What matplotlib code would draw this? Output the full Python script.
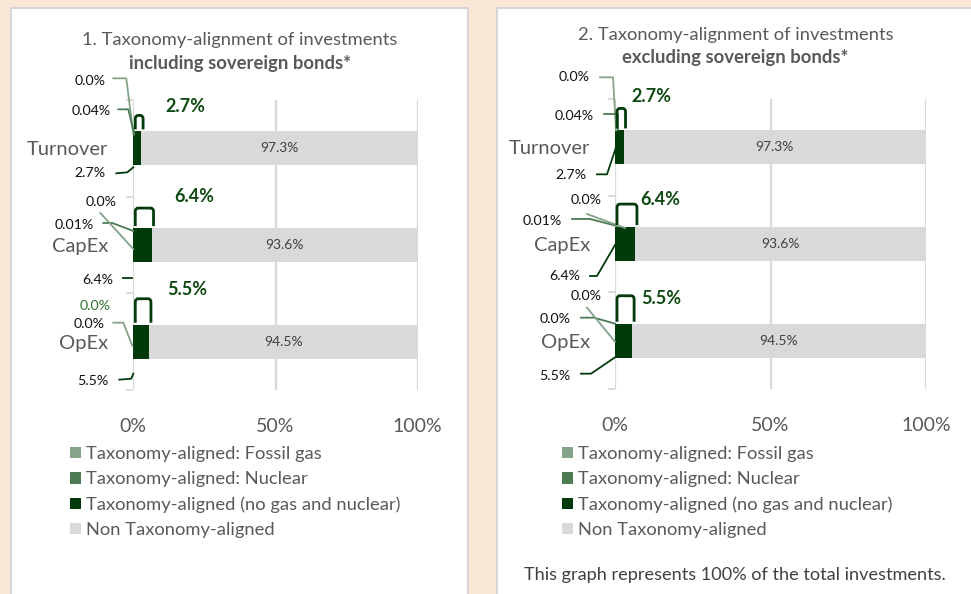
import matplotlib
matplotlib.use('Agg')
import matplotlib.pyplot as plt
from matplotlib.lines import Line2D
from matplotlib.patches import Rectangle, Patch, PathPatch
from matplotlib.path import Path
from matplotlib.transforms import IdentityTransform

W, H = 971, 594
plt.rcParams['font.family'] = ['Lato', 'DejaVu Sans']

# ---------------- data ----------------
categories = ['Turnover', 'CapEx', 'OpEx']
series_names = ['Taxonomy-aligned: Fossil gas', 'Taxonomy-aligned: Nuclear',
                'Taxonomy-aligned (no gas and nuclear)', 'Non Taxonomy-aligned']

incl_gas = [0.0, 0.0, 0.0]
incl_nuclear = [0.04, 0.01, 0.0]
incl_aligned = [2.7, 6.4, 5.5]
incl_non = [97.3, 93.6, 94.5]

excl_gas = [0.0, 0.0, 0.0]
excl_nuclear = [0.04, 0.01, 0.0]
excl_aligned = [2.7, 6.4, 5.5]
excl_non = [97.3, 93.6, 94.5]

xticks = [0, 50, 100]
xticklabels = ['0%', '50%', '100%']

title1_a = '1. Taxonomy-alignment of investments'
title1_b = 'including sovereign bonds*'
title2_a = '2. Taxonomy-alignment of investments'
title2_b = 'excluding sovereign bonds*'
footer = 'This graph represents 100% of the total investments.'

# ---------------- style ----------------
C_GAS = '#84A388'
C_NUC = '#4C7A53'
C_ALI = '#023A0C'
C_NON = '#D9D9D9'
C_TXT = '#595959'
C_BG = '#FAE8D6'
COLORS = [C_GAS, C_NUC, C_ALI, C_NON]
LCOL = {'gas': C_GAS, 'nuc': C_NUC, 'ali': C_ALI}

fig = plt.figure(figsize=(W / 100, H / 100), dpi=100, facecolor=C_BG)


def frac_rect(x0, y0, x1, y1):
    return [x0 / W, 1 - y1 / H, (x1 - x0) / W, (y1 - y0) / H]


# white panels
for (x0, x1) in [(11, 468), (497, 985)]:
    r = Rectangle((x0 / W, -0.05), (x1 - x0) / W, 1.05 - 8 / H,
                  transform=fig.transFigure, facecolor='white',
                  edgecolor='#D6D6D6', linewidth=1.5, zorder=0)
    fig.add_artist(r)


def fmt_small(v):
    return '0.0%' if v == 0 else f'{v:.2f}%'


panels = [
    dict(rect=(133.3, 100, 417.7, 390), gas=incl_gas, nuc=incl_nuclear, ali=incl_aligned, non=incl_non,
         title=(title1_a, title1_b), tpos=(240, 40, 63), legend=(70, 446),
         texts=[[('gas', (-28, -67)), ('nuc', (-23, -37)), ('ali', (-28, 25))],
                [('gas', (-17, -43)), ('nuc', (-39, -20)), ('ali', (-20, 35))],
                [('gas', (-23, -36)), ('nuc', (-29, -18)), ('ali', (-25, 39))]],
         gas_colored=[False, False, True],
         leaders=[[('gas', [(-20, -70), (-7, -70), (0, -14)]),
                   ('nuc', [(-15, -39), (-5, -39), (1, -14)]),
                   ('ali', [(-17, 25), (-6, 24), (0, 19)])],
                  [('nuc', [(-30, -22), (-21, -22), (0, -14)]),
                   ('gas', [(-33, -32), (0, 4)]),
                   ('ali', [(-10, 33), (-1, 33)])],
                  [('gas', [(-20, -19), (-10, -19), (-1, 4)]),
                   ('ali', [(-14, 38), (-2, 37), (0, 32)])]],
         bracket_h=[16, 20, 26],
         total_off=[(24, -25), (23, -32), (18, -35)]),
    dict(rect=(615, 99, 926, 389), gas=excl_gas, nuc=excl_nuclear, ali=excl_aligned, non=excl_non,
         title=(title2_a, title2_b), tpos=(735.5, 35, 58), legend=(562, 446),
         texts=[[('gas', (-25, -70)), ('nuc', (-21, -31)), ('ali', (-28, 28))],
                [('gas', (-13, -44)), ('nuc', (-53, -23)), ('ali', (-35, 32))],
                [('gas', (-13, -45)), ('nuc', (-44, -22)), ('ali', (-45, 35))]],
         gas_colored=[False, False, False],
         leaders=[[('gas', [(-15, -70), (-2, -70), (1, -17)]),
                   ('nuc', [(-11, -33), (3, -33), (3, -17)]),
                   ('ali', [(-18, 27), (-8, 27), (1, 0)])],
                  [('nuc', [(-43, -25), (-25, -25), (2, -18)]),
                   ('gas', [(-28, -30), (10, -16)]),
                   ('ali', [(-25, 32), (-18, 32), (0, 1)])],
                  [('nuc', [(-34, -23), (-21, -23), (0, -17)]),
                   ('gas', [(-28, -33), (0, 1)]),
                   ('ali', [(-34, 33), (-24, 33), (1, 16)])]],
         bracket_h=[22, 23, 28],
         total_off=[(8, -34), (5, -28), (9, -25)]),
]

BAR_H = 0.35
idt = IdentityTransform()

for p in panels:
    ax = fig.add_axes(frac_rect(*p['rect']))
    ax.set_facecolor('none')
    ypos = list(range(len(categories)))
    left = [0.0] * len(categories)
    handles = []
    for name, vals, col in zip(series_names, [p['gas'], p['nuc'], p['ali'], p['non']], COLORS):
        ax.barh(ypos, vals, left=left, height=BAR_H, color=col, zorder=3)
        left = [a + b for a, b in zip(left, vals)]
        handles.append(Patch(facecolor=col, edgecolor='none', label=name))

    ax.set_xlim(0, 100)
    ax.set_ylim(len(categories) - 0.5, -0.5)
    ax.set_xticks(xticks)
    ax.set_xticklabels(xticklabels)
    ax.set_yticks(ypos)
    ax.set_yticklabels(categories)
    ax.set_yticks([y - 0.5 for y in ypos] + [len(categories) - 0.5], minor=True)
    ax.tick_params(axis='x', length=0, pad=20, labelsize=14, labelcolor=C_TXT)
    ax.tick_params(axis='y', which='major', length=0, pad=18, labelsize=14.5, labelcolor=C_TXT)
    ax.tick_params(axis='y', which='minor', length=5, width=1.3, color='#D9D9D9')
    for s in ax.spines.values():
        s.set_visible(False)
    ax.grid(axis='x', color='#D9D9D9', linewidth=1.6, zorder=0)
    ax.set_axisbelow(True)

    tx = ax.transData
    for i in ypos:
        vals = {'gas': p['gas'][i], 'nuc': p['nuc'][i], 'ali': p['ali'][i]}
        labels = {'gas': fmt_small(vals['gas']), 'nuc': fmt_small(vals['nuc']), 'ali': f"{vals['ali']:.1f}%"}
        # leader lines
        for key, pts in p['leaders'][i]:
            X0, Y0 = tx.transform((0, i))
            xs = [X0 + dx for dx, dy in pts]
            ys = [Y0 - dy for dx, dy in pts]
            fig.add_artist(Line2D(xs, ys, transform=idt, color=LCOL[key], linewidth=1.3, zorder=5))
        # small labels
        for key, (dx, dy) in p['texts'][i]:
            col = '#2F6F2F' if (key == 'gas' and p['gas_colored'][i]) else '#111111'
            ax.annotate(labels[key], xy=(0, i), xytext=(dx, -dy), textcoords='offset pixels',
                        ha='right', va='center', fontsize=10.2, color=col, annotation_clip=False)
        # non-aligned value label
        start = p['gas'][i] + p['nuc'][i] + p['ali'][i]
        ax.text(start + p['non'][i] / 2, i, f"{p['non'][i]:.1f}%", ha='center', va='center',
                fontsize=10, color='#404040', zorder=6)
        # bracket above aligned part (rounded top corners)
        total = start
        Xa, Yt = tx.transform((0, i - BAR_H / 2))
        Xb, _ = tx.transform((total, i - BAR_H / 2))
        Xa += 2
        Xb += 2
        h = p['bracket_h'][i]
        yb = Yt + 2
        yt = Yt + h
        r = 3
        verts = [(Xa, yb), (Xa, yt - r), (Xa, yt), (Xa + r, yt), (Xb - r, yt), (Xb, yt), (Xb, yt - r), (Xb, yb)]
        codes = [Path.MOVETO, Path.LINETO, Path.CURVE3, Path.CURVE3, Path.LINETO,
                 Path.CURVE3, Path.CURVE3, Path.LINETO]
        fig.add_artist(PathPatch(Path(verts, codes), transform=idt, fill=False,
                                 edgecolor=C_ALI, linewidth=2, zorder=5))
        dx, dy = p['total_off'][i]
        ax.annotate(f'{total:.1f}%', xy=(total, i - BAR_H / 2), xytext=(dx, -dy),
                    textcoords='offset pixels', ha='left', va='center', fontsize=13,
                    fontweight='bold', color='#0F4A12', annotation_clip=False)

    # titles
    cx, y1, y2 = p['tpos']
    fig.text(cx / W, 1 - y1 / H, p['title'][0], ha='center', va='center', fontsize=13.2, color=C_TXT)
    fig.text(cx / W, 1 - y2 / H, p['title'][1], ha='center', va='center', fontsize=13.3,
             fontweight='bold', color=C_TXT)

    # legend
    lx, ly = p['legend']
    fig.legend(handles=handles, loc='upper left', bbox_to_anchor=(lx / W, 1 - ly / H),
               frameon=False, fontsize=13.2, labelcolor=C_TXT, handlelength=0.6, handleheight=0.6,
               handletextpad=0.25, borderpad=0, borderaxespad=0, labelspacing=0.5)

fig.text(735 / W, 1 - 575 / H, footer, ha='center', va='center', fontsize=13.1, color='#404040')

fig.savefig('out.png', dpi=100, facecolor=C_BG)
